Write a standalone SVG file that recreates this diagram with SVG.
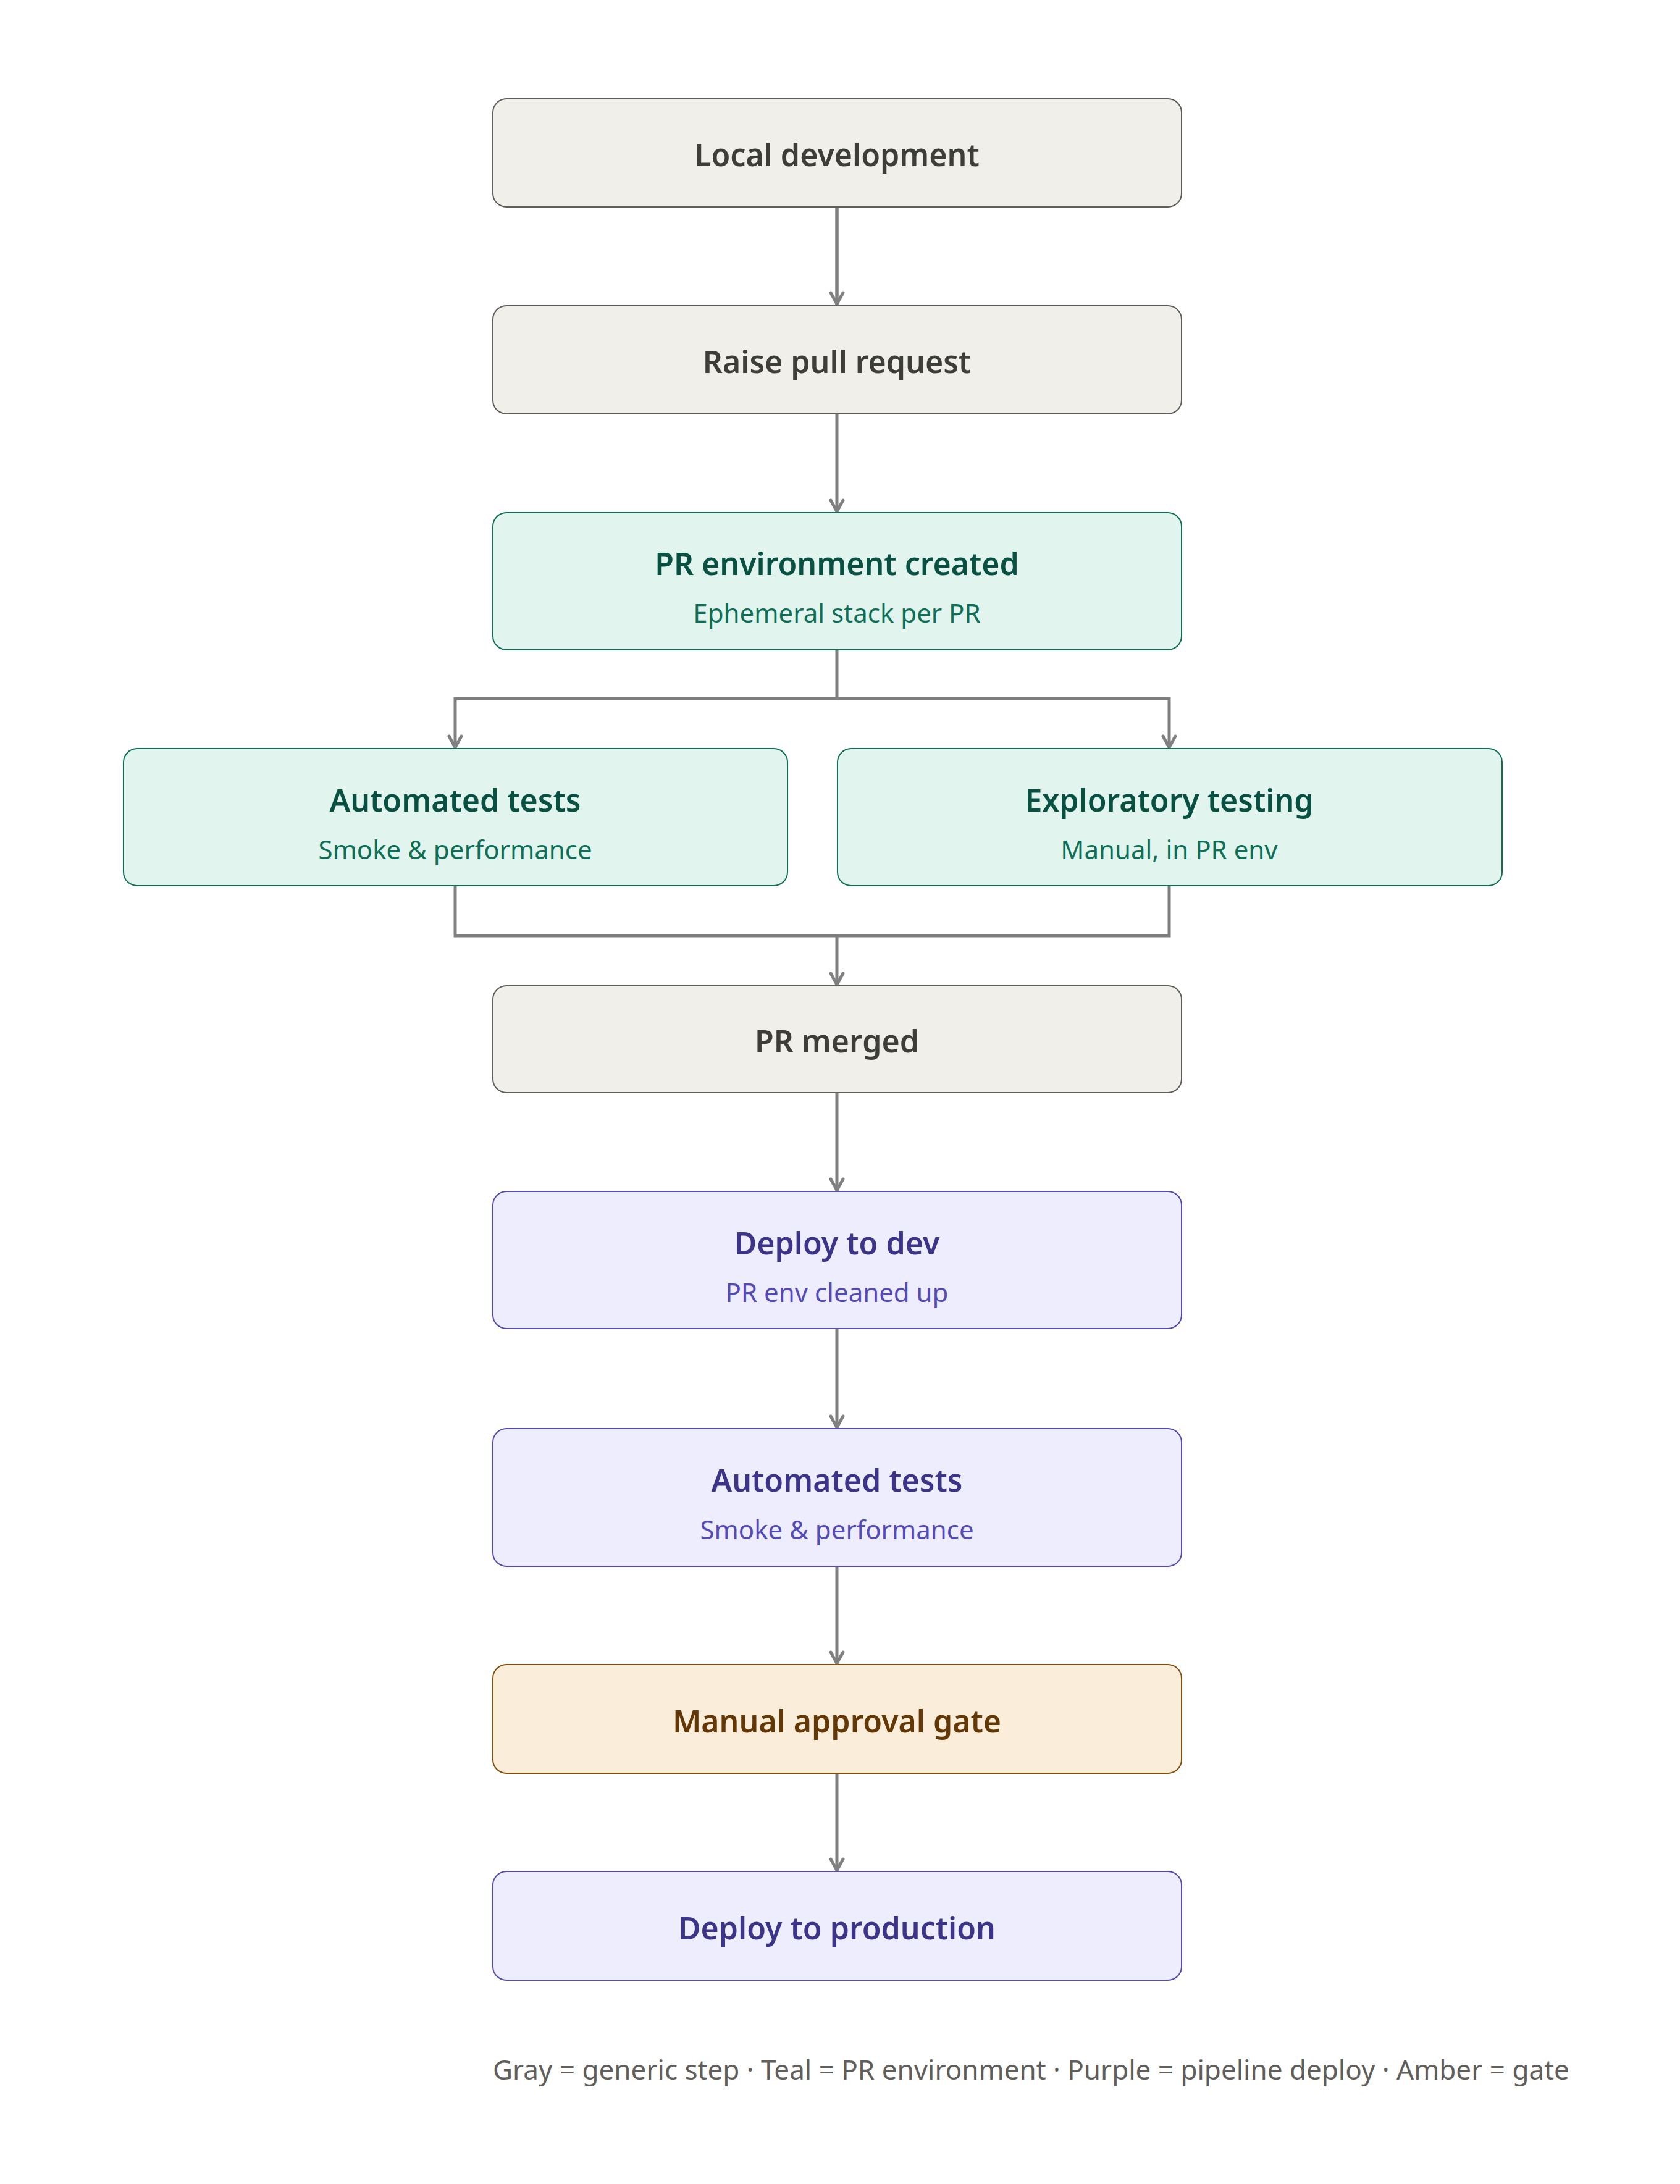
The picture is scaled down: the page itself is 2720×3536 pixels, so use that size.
<svg xmlns="http://www.w3.org/2000/svg" width="2720" height="3536" viewBox="0 0 2720 3536">
<style>
text{font-family:"Noto Sans","Open Sans",sans-serif;text-anchor:middle;dominant-baseline:central}
.t{font-size:50px;font-weight:600}
.s{font-size:42px}
.gray rect{fill:#f0efea;stroke:#5f5e5a}
.gray text{fill:#3d3d3a}
.teal rect{fill:#e1f5ee;stroke:#0f6e56}
.teal .t{fill:#085041}.teal .s{fill:#0f6e56}
.pur rect{fill:#eeedfe;stroke:#534ab7}
.pur .t{fill:#3c3489}.pur .s{fill:#534ab7}
.amb rect{fill:#faeeda;stroke:#854f0b}
.amb text{fill:#633806}
rect{stroke-width:2}
.c path{fill:none;stroke:#808080;stroke-width:5}
</style>
<defs><marker id="a" viewBox="0 0 10 10" refX="9" refY="5" markerWidth="8" markerHeight="8" orient="auto" markerUnits="userSpaceOnUse"><path d="M1,1 L9,5 L1,9" fill="none" stroke="#808080" stroke-width="1.5"/></marker></defs>
<rect width="2720" height="3536" fill="#fff"/>
<g class="c">
<path d="M1355,335V493" marker-end="url(#x)"/>
</g>
<g class="c" stroke-linecap="round">
<path d="M1355,335V490"/><path d="M1345,474L1355,492L1365,474"/>
<path d="M1355,670V828"/><path d="M1345,810L1355,828L1365,810"/>
<path d="M1355,1052V1131H737V1210M1355,1131H1893V1210"/><path d="M727,1192L737,1210L747,1192M1883,1192L1893,1210L1903,1192"/>
<path d="M737,1434V1515H1893V1434M1355,1515V1594"/><path d="M1345,1576L1355,1594L1365,1576"/>
<path d="M1355,1769V1927"/><path d="M1345,1909L1355,1927L1365,1909"/>
<path d="M1355,2151V2311"/><path d="M1345,2293L1355,2311L1365,2293"/>
<path d="M1355,2536V2693"/><path d="M1345,2675L1355,2693L1365,2675"/>
<path d="M1355,2871V3028"/><path d="M1345,3010L1355,3028L1365,3010"/>
</g>
<g id="n1" class="gray"><rect x="798" y="160" width="1115" height="175" rx="22"/><text class="t" x="1355" y="250">Local development</text></g>
<g id="n2" class="gray"><rect x="798" y="495" width="1115" height="175" rx="22"/><text class="t" x="1355" y="585">Raise pull request</text></g>
<g id="n3" class="teal"><rect x="798" y="830" width="1115" height="222" rx="22"/><text class="t" x="1355" y="912">PR environment created</text><text class="s" x="1355" y="991">Ephemeral stack per PR</text></g>
<g id="n4" class="teal"><rect x="200" y="1212" width="1075" height="222" rx="22"/><text class="t" x="737" y="1295">Automated tests</text><text class="s" x="737" y="1374">Smoke &amp; performance</text></g>
<g id="n5" class="teal"><rect x="1356" y="1212" width="1076" height="222" rx="22"/><text class="t" x="1893" y="1295">Exploratory testing</text><text class="s" x="1893" y="1374">Manual, in PR env</text></g>
<g id="n6" class="gray"><rect x="798" y="1596" width="1115" height="173" rx="22"/><text class="t" x="1355" y="1685">PR merged</text></g>
<g id="n7" class="pur"><rect x="798" y="1929" width="1115" height="222" rx="22"/><text class="t" x="1355" y="2012">Deploy to dev</text><text class="s" x="1355" y="2091">PR env cleaned up</text></g>
<g id="n8" class="pur"><rect x="798" y="2313" width="1115" height="223" rx="22"/><text class="t" x="1355" y="2396">Automated tests</text><text class="s" x="1355" y="2475">Smoke &amp; performance</text></g>
<g id="n9" class="amb"><rect x="798" y="2695" width="1115" height="176" rx="22"/><text class="t" x="1355" y="2786">Manual approval gate</text></g>
<g id="n10" class="pur"><rect x="798" y="3030" width="1115" height="176" rx="22"/><text class="t" x="1355" y="3121">Deploy to production</text></g>
<text x="798" y="3350" style="text-anchor:start;font-size:44px;fill:#5f5e5a">Gray = generic step · Teal = PR environment · Purple = pipeline deploy · Amber = gate</text>
</svg>
